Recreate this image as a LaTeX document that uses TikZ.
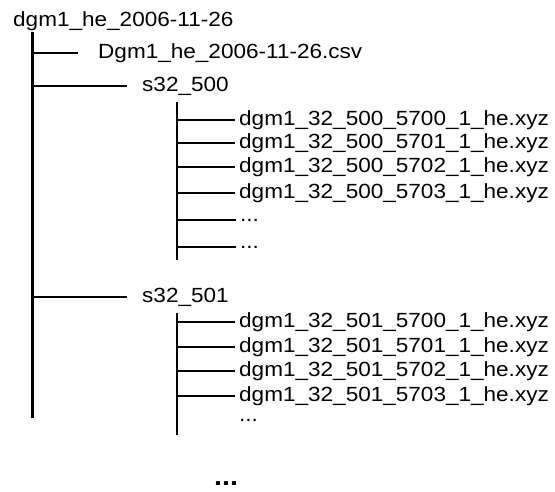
\documentclass[tikz,border=0pt]{standalone}
\usepackage{fontspec}
\setmainfont{Liberation Sans}[FakeStretch=1.1]

\begin{document}
\begin{tikzpicture}[
    x=1pt, y=-1pt,
    entry/.style={anchor=west, inner sep=2pt, font=\fontsize{20.5}{24}\selectfont},
    file/.style={entry, inner sep=4pt},
    trunk/.style={line width=3pt},
    branch/.style={line width=1.6pt}
]
    \useasboundingbox (0, 0) rectangle (555, 492);

    % Root folder
    \node[entry] (root) at (11, 21) {dgm1\_he\_2006-11-26};
    \coordinate (trunktop) at (32, 32);
    \coordinate (trunkbot) at (32, 418);

    % Level 1
    \node[entry] (csv) at (96, 53) {Dgm1\_he\_2006-11-26.csv};
    \node[entry] (s500) at (140, 86) {s32\_500};
    \node[entry] (s501) at (140, 297) {s32\_501};

    % Files of s32_500
    \coordinate (sub500top) at (177, 102);
    \coordinate (sub500bot) at (177, 260);
    \node[file] (a5700) at (235, 120) {dgm1\_32\_500\_5700\_1\_he.xyz};
    \node[file] (a5701) at (235, 143) {dgm1\_32\_500\_5701\_1\_he.xyz};
    \node[file] (a5702) at (235, 167) {dgm1\_32\_500\_5702\_1\_he.xyz};
    \node[file] (a5703) at (235, 193) {dgm1\_32\_500\_5703\_1\_he.xyz};
    \node[file] (adots1) at (236, 220) {...};
    \node[file] (adots2) at (236, 247) {...};

    % Files of s32_501
    \coordinate (sub501top) at (177, 313);
    \coordinate (sub501bot) at (177, 435);
    \node[file] (b5700) at (235, 322) {dgm1\_32\_501\_5700\_1\_he.xyz};
    \node[file] (b5701) at (235, 347) {dgm1\_32\_501\_5701\_1\_he.xyz};
    \node[file] (b5702) at (235, 371) {dgm1\_32\_501\_5702\_1\_he.xyz};
    \node[file] (b5703) at (235, 396) {dgm1\_32\_501\_5703\_1\_he.xyz};
    \node[file] (bdots) at (235, 420) {...};

    % More folders
    \node[entry, anchor=base west, font=\bfseries\fontsize{26}{30}\selectfont] (more) at (212, 485) {...};

    % Trunk and branches
    \draw[trunk] (trunktop) -- (trunkbot);
    \draw[branch] (trunktop |- csv.west) -- ([xshift=-18pt]csv.west);
    \draw[branch] (trunktop |- s500.west) -- ([xshift=-13pt]s500.west);
    \draw[branch] (trunktop |- s501.west) -- ([xshift=-13pt]s501.west);

    % Sub trees
    \draw[branch] (sub500top) -- (sub500bot);
    \draw[branch] (sub500top |- a5700.west) -- (a5700.west);
    \draw[branch] (sub500top |- a5701.west) -- (a5701.west);
    \draw[branch] (sub500top |- a5702.west) -- (a5702.west);
    \draw[branch] (sub500top |- a5703.west) -- (a5703.west);
    \draw[branch] (sub500top |- adots1.west) -- (adots1.west);
    \draw[branch] (sub500top |- adots2.west) -- (adots2.west);

    \draw[branch] (sub501top) -- (sub501bot);
    \draw[branch] (sub501top |- b5700.west) -- (b5700.west);
    \draw[branch] (sub501top |- b5701.west) -- (b5701.west);
    \draw[branch] (sub501top |- b5702.west) -- (b5702.west);
    \draw[branch] (sub501top |- b5703.west) -- (b5703.west);
\end{tikzpicture}
\end{document}
